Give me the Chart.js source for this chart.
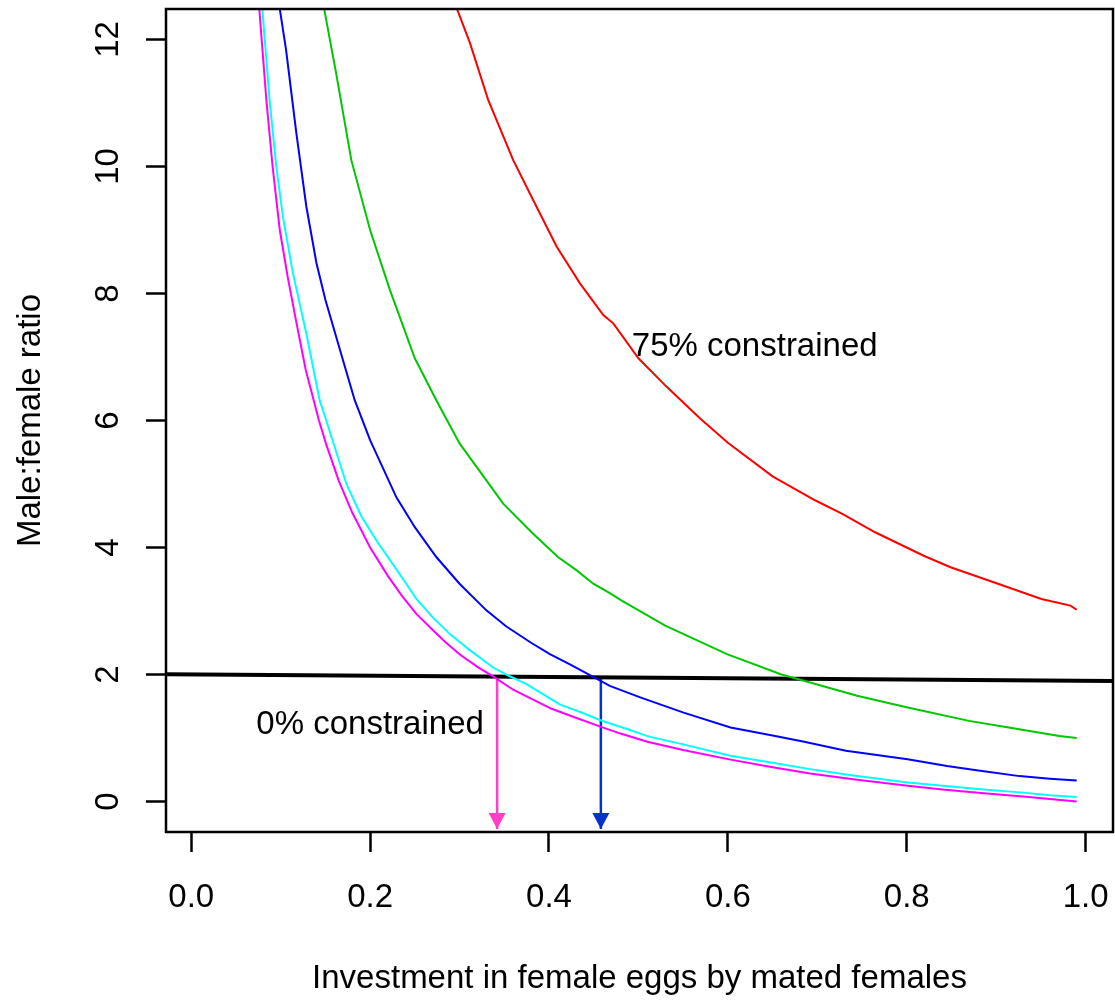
<!DOCTYPE html>
<html>
<head>
<meta charset="utf-8">
<title>Male:female ratio</title>
<script src="https://cdn.jsdelivr.net/npm/chart.js@4.4.0/dist/chart.umd.min.js"></script>
<style>
  body { margin: 0; background: #fff; }
  canvas { display: block; }
</style>
</head>
<body>
<canvas id="ratioChart" width="1115" height="1001"></canvas>
<script>
const xTicks = [0, 0.2, 0.4, 0.6, 0.8, 1.0];
const xTickLabels = ['0.0', '0.2', '0.4', '0.6', '0.8', '1.0'];
const yTicks = [0, 2, 4, 6, 8, 10, 12];
const yTickLabels = ['0', '2', '4', '6', '8', '10', '12'];

// 0% constrained
const magentaX = [0.076, 0.084, 0.091, 0.099, 0.108, 0.1175, 0.128, 0.1428, 0.151, 0.165, 0.18, 0.20, 0.22, 0.236, 0.252, 0.27, 0.285, 0.30, 0.32, 0.3375, 0.36, 0.38, 0.403, 0.43, 0.4575, 0.48, 0.51, 0.55, 0.603, 0.65, 0.692, 0.74, 0.801, 0.84, 0.886, 0.93, 0.96, 0.99];
const magentaY = [12.5, 11.05, 10.0, 9.0, 8.25, 7.55, 6.8, 6.0, 5.62, 5.05, 4.55, 4.0, 3.55, 3.23, 2.95, 2.7, 2.5, 2.32, 2.12, 1.97, 1.76, 1.62, 1.46, 1.32, 1.18, 1.07, 0.94, 0.81, 0.66, 0.54, 0.44, 0.35, 0.25, 0.19, 0.13, 0.08, 0.04, 0.0];

const cyanX = [0.0794, 0.0876, 0.0951, 0.1025, 0.1137, 0.1287, 0.1436, 0.151, 0.1735, 0.19, 0.207, 0.2331, 0.2518, 0.27, 0.289, 0.31, 0.3375, 0.355, 0.375, 0.39, 0.412, 0.435, 0.4575, 0.49, 0.51, 0.55, 0.603, 0.65, 0.692, 0.74, 0.801, 0.84, 0.886, 0.93, 0.96, 0.99];
const cyanY = [12.5, 11.05, 10.0, 9.21, 8.32, 7.37, 6.32, 6.0, 5.0, 4.5, 4.11, 3.58, 3.19, 2.9, 2.64, 2.4, 2.11, 1.98, 1.85, 1.72, 1.53, 1.41, 1.28, 1.13, 1.03, 0.9, 0.72, 0.61, 0.51, 0.41, 0.30, 0.25, 0.19, 0.14, 0.10, 0.07];

const blueX = [0.0988, 0.106, 0.1175, 0.1287, 0.14, 0.15, 0.1697, 0.1828, 0.2, 0.2294, 0.25, 0.274, 0.3, 0.33, 0.352, 0.38, 0.401, 0.4234, 0.4536, 0.468, 0.502, 0.5505, 0.603, 0.65, 0.684, 0.732, 0.801, 0.845, 0.88, 0.926, 0.96, 0.99];
const blueY = [12.5, 11.84, 10.53, 9.37, 8.48, 7.9, 6.95, 6.32, 5.69, 4.79, 4.32, 3.85, 3.43, 3.01, 2.76, 2.5, 2.32, 2.16, 1.93, 1.82, 1.64, 1.40, 1.165, 1.04, 0.944, 0.80, 0.666, 0.56, 0.49, 0.40, 0.36, 0.33];

const greenX = [0.1484, 0.162, 0.179, 0.2, 0.222, 0.25, 0.274, 0.3, 0.3227, 0.3488, 0.382, 0.41, 0.431, 0.4495, 0.468, 0.4818, 0.53, 0.599, 0.66, 0.692, 0.7445, 0.801, 0.8697, 0.914, 0.9707, 0.99];
const greenY = [12.5, 11.47, 10.1, 9.0, 8.06, 6.98, 6.32, 5.64, 5.2, 4.69, 4.22, 3.85, 3.64, 3.43, 3.28, 3.16, 2.77, 2.32, 2.0, 1.875, 1.665, 1.48, 1.27, 1.165, 1.03, 1.0];

// 75% constrained
const redX = [0.2966, 0.3115, 0.332, 0.36, 0.382, 0.4085, 0.4346, 0.4607, 0.4719, 0.5, 0.5316, 0.569, 0.6, 0.65, 0.698, 0.728, 0.7646, 0.819, 0.849, 0.902, 0.9506, 0.983, 0.99];
const redY = [12.5, 11.95, 11.05, 10.1, 9.48, 8.74, 8.16, 7.66, 7.53, 6.98, 6.53, 6.03, 5.65, 5.12, 4.74, 4.53, 4.24, 3.87, 3.69, 3.43, 3.19, 3.085, 3.02];

// 2:1 line
const refX = [-0.0282, 1.0306];
const refY = [2.003, 1.897];

const arrowX = [0.342, 0.458];
const arrowTop = [1.966, 1.954];
const arrowTip = [-0.434, -0.434];
const arrowColors = ['#ff3fc8', '#0033cc'];

const noteText = ['75% constrained', '0% constrained'];
const noteX = [0.63, 0.2];
const noteY = [7.16, 1.2];

const FONT = "33px 'Liberation Sans', Arial, sans-serif";

function pts(xs, ys) {
  return xs.map((x, i) => ({ x: x, y: ys[i] }));
}

function curve(xs, ys, color, width) {
  return {
    data: pts(xs, ys),
    borderColor: color,
    borderWidth: width,
    showLine: true,
    pointRadius: 0,
    fill: false,
    tension: 0
  };
}

const extras = {
  id: 'extras',
  afterDatasetsDraw(chart) {
    const ctx = chart.ctx;
    const a = chart.chartArea;
    const x = chart.scales.x;
    const y = chart.scales.y;
    ctx.save();

    // arrow heads
    arrowX.forEach((v, i) => {
      const px = x.getPixelForValue(v);
      const tip = y.getPixelForValue(arrowTip[i]);
      ctx.fillStyle = arrowColors[i];
      ctx.beginPath();
      ctx.moveTo(px, tip);
      ctx.lineTo(px - 8.5, tip - 16);
      ctx.lineTo(px + 8.5, tip - 16);
      ctx.closePath();
      ctx.fill();
    });

    // box
    ctx.lineWidth = 2.5;
    ctx.strokeStyle = '#000';
    ctx.strokeRect(a.left, a.top, a.right - a.left, a.bottom - a.top);

    ctx.font = FONT;
    ctx.fillStyle = '#000';
    ctx.textAlign = 'center';
    ctx.textBaseline = 'middle';
    noteText.forEach((t, i) => {
      ctx.fillText(t, x.getPixelForValue(noteX[i]), y.getPixelForValue(noteY[i]));
    });

    ctx.textBaseline = 'alphabetic';
    xTicks.forEach((v, i) => {
      ctx.fillText(xTickLabels[i], x.getPixelForValue(v), a.bottom + 75);
    });
    yTicks.forEach((v, i) => {
      ctx.save();
      ctx.translate(a.left - 48, y.getPixelForValue(v));
      ctx.rotate(-Math.PI / 2);
      ctx.fillText(yTickLabels[i], 0, 0);
      ctx.restore();
    });

    ctx.fillText('Investment in female eggs by mated females', (a.left + a.right) / 2, a.bottom + 156);
    ctx.save();
    ctx.translate(a.left - 126, (a.top + a.bottom) / 2);
    ctx.rotate(-Math.PI / 2);
    ctx.fillText('Male:female ratio', 0, 0);
    ctx.restore();

    ctx.restore();
  }
};

document.addEventListener("DOMContentLoaded", () => {

  const ctx = document.getElementById('ratioChart').getContext('2d');

  const datasets = [
    curve(redX, redY, '#ff0000', 2),
    curve(greenX, greenY, '#00c800', 2),
    curve(blueX, blueY, '#0000ff', 2),
    curve(cyanX, cyanY, '#00ffff', 2),
    curve(magentaX, magentaY, '#ff00ff', 2),
    curve(refX, refY, '#000000', 4)
  ];
  arrowX.forEach((v, i) => {
    datasets.push(curve([v, v], [arrowTop[i], arrowTip[i]], arrowColors[i], 2.5));
  });

  new Chart(ctx, {
    type: 'scatter',
    data: { datasets: datasets },
    options: {
      responsive: false,
      animation: false,
      layout: { padding: { top: 9, right: 2, left: 0, bottom: 0 } },
      plugins: {
        legend: { display: false },
        tooltip: { enabled: false }
      },
      scales: {
        x: {
          type: 'linear',
          min: -0.0282,
          max: 1.0306,
          afterBuildTicks: s => { s.ticks = xTicks.map(v => ({ value: v })); },
          afterFit: s => { s.height = 169; },
          ticks: { display: false },
          border: { display: false },
          grid: { drawOnChartArea: false, drawTicks: true, tickLength: 20, tickWidth: 2.5, tickColor: '#000' }
        },
        y: {
          type: 'linear',
          min: -0.48,
          max: 12.48,
          afterBuildTicks: s => { s.ticks = yTicks.map(v => ({ value: v })); },
          afterFit: s => { s.width = 166; },
          ticks: { display: false },
          border: { display: false },
          grid: { drawOnChartArea: false, drawTicks: true, tickLength: 20, tickWidth: 2.5, tickColor: '#000' }
        }
      }
    },
    plugins: [extras]
  });

})
</script>
</body>
</html>
